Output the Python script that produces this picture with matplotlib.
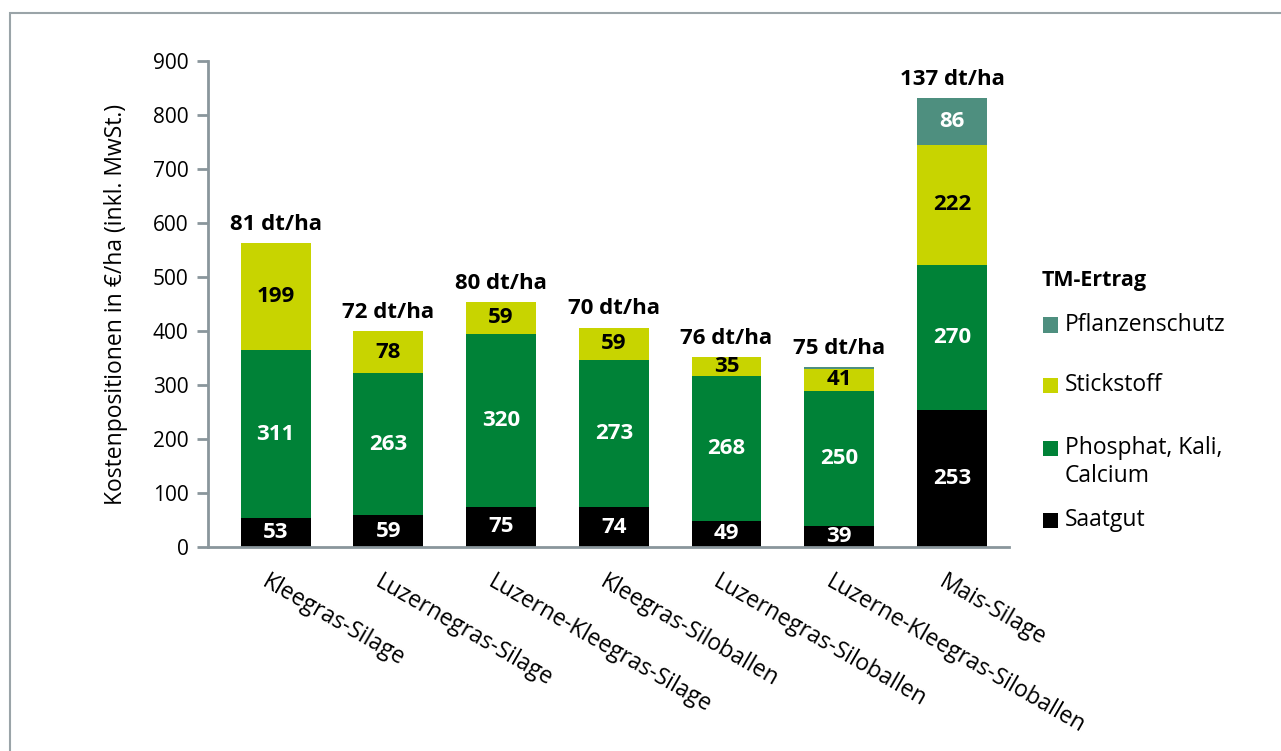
import numpy as np
import matplotlib.pyplot as plt
from matplotlib.patches import Rectangle

plt.rcParams['font.family'] = ['Open Sans', 'DejaVu Sans']

kategorien = ['Kleegras-Silage', 'Luzernegras-Silage', 'Luzerne-Kleegras-Silage',
              'Kleegras-Siloballen', 'Luzernegras-Siloballen',
              'Luzerne-Kleegras-Siloballen', 'Mais-Silage']
ertrag = ['81 dt/ha', '72 dt/ha', '80 dt/ha', '70 dt/ha', '76 dt/ha', '75 dt/ha', '137 dt/ha']

saatgut = [53, 59, 75, 74, 49, 39, 253]
phosphat = [311, 263, 320, 273, 268, 250, 270]
stickstoff = [199, 78, 59, 59, 35, 41, 222]
pflanzenschutz = [0, 0, 0, 0, 0, 3, 86]

farben = {
    'Saatgut': '#000000',
    'Phosphat, Kali,\nCalcium': '#008237',
    'Stickstoff': '#c8d400',
    'Pflanzenschutz': '#4e8f7f',
}
grau = '#8a969c'

W, H = 1281, 751
fig = plt.figure(figsize=(W / 100, H / 100), dpi=100)
ax = fig.add_axes([0.1624, 0.2716, 0.6256, 0.6472])

# Rahmen um die Grafik
fig.patches.append(Rectangle((10 / W, -0.1), 1.2, 1 - 13 / H + 0.1,
                             transform=fig.transFigure, fill=False,
                             edgecolor='#9aa4a8', linewidth=1.5))

x = np.arange(len(kategorien))
breite = 0.62
serien = [
    (saatgut, 'Saatgut', 'white'),
    (phosphat, 'Phosphat, Kali,\nCalcium', 'white'),
    (stickstoff, 'Stickstoff', 'black'),
    (pflanzenschutz, 'Pflanzenschutz', 'white'),
]
unten = np.zeros(len(kategorien))
for werte, name, textfarbe in serien:
    werte = np.array(werte, dtype=float)
    ax.bar(x, werte, breite, bottom=unten, color=farben[name], linewidth=0)
    for xi, b, w in zip(x, unten, werte):
        if w >= 20:
            ax.text(xi, b + w / 2, f'{int(w)}', ha='center', va='center',
                    color=textfarbe, fontsize=16, fontweight='bold')
    unten += werte

for xi, gesamt, label in zip(x, unten, ertrag):
    ax.annotate(label, (xi, gesamt), xytext=(0, 6), textcoords='offset points',
                ha='center', va='bottom', fontsize=16, fontweight='bold')

ax.set_xlim(-0.6, 6.51)
ax.set_ylim(0, 900)
ax.set_yticks(range(0, 901, 100))
ax.set_xticks(x)
ax.set_xticklabels([])

# schräge Kategorienbeschriftung
for xi, name in zip(x, kategorien):
    ax.annotate(name, (xi, 0), xycoords=ax.get_xaxis_transform(),
                xytext=(-4, -16.5), textcoords='offset points',
                rotation=-30, rotation_mode='anchor', ha='left', va='top',
                fontsize=16.5)

for s in ['top', 'right']:
    ax.spines[s].set_visible(False)
for s in ['left', 'bottom']:
    ax.spines[s].set_color(grau)
    ax.spines[s].set_linewidth(2)
ax.tick_params(axis='y', direction='out', length=8, width=2, color=grau,
               labelsize=15, pad=6)
ax.tick_params(axis='x', length=0, pad=0)
ax.set_ylabel('Kostenpositionen in €/ha (inkl. MwSt.)', fontsize=16.5, labelpad=18)

# Legende von Hand gesetzt (Pixelpositionen)
fig.text(1042 / W, 1 - 280 / H, 'TM-Ertrag', fontsize=15.5, fontweight='bold',
         ha='left', va='center')
namen = ['Pflanzenschutz', 'Stickstoff', 'Phosphat, Kali,\nCalcium', 'Saatgut']
zeilen_y = [325, 385, 448, 520]
kante = 15
for name, yp in zip(namen, zeilen_y):
    fig.patches.append(Rectangle((1043 / W, 1 - (yp + kante / 2) / H), kante / W, kante / H,
                                 transform=fig.transFigure, facecolor=farben[name],
                                 edgecolor='none'))
    fig.text(1065 / W, 1 - (yp - 12) / H, name, fontsize=16.5, ha='left', va='top',
             linespacing=1.2)

fig.savefig('out.png', dpi=100)
